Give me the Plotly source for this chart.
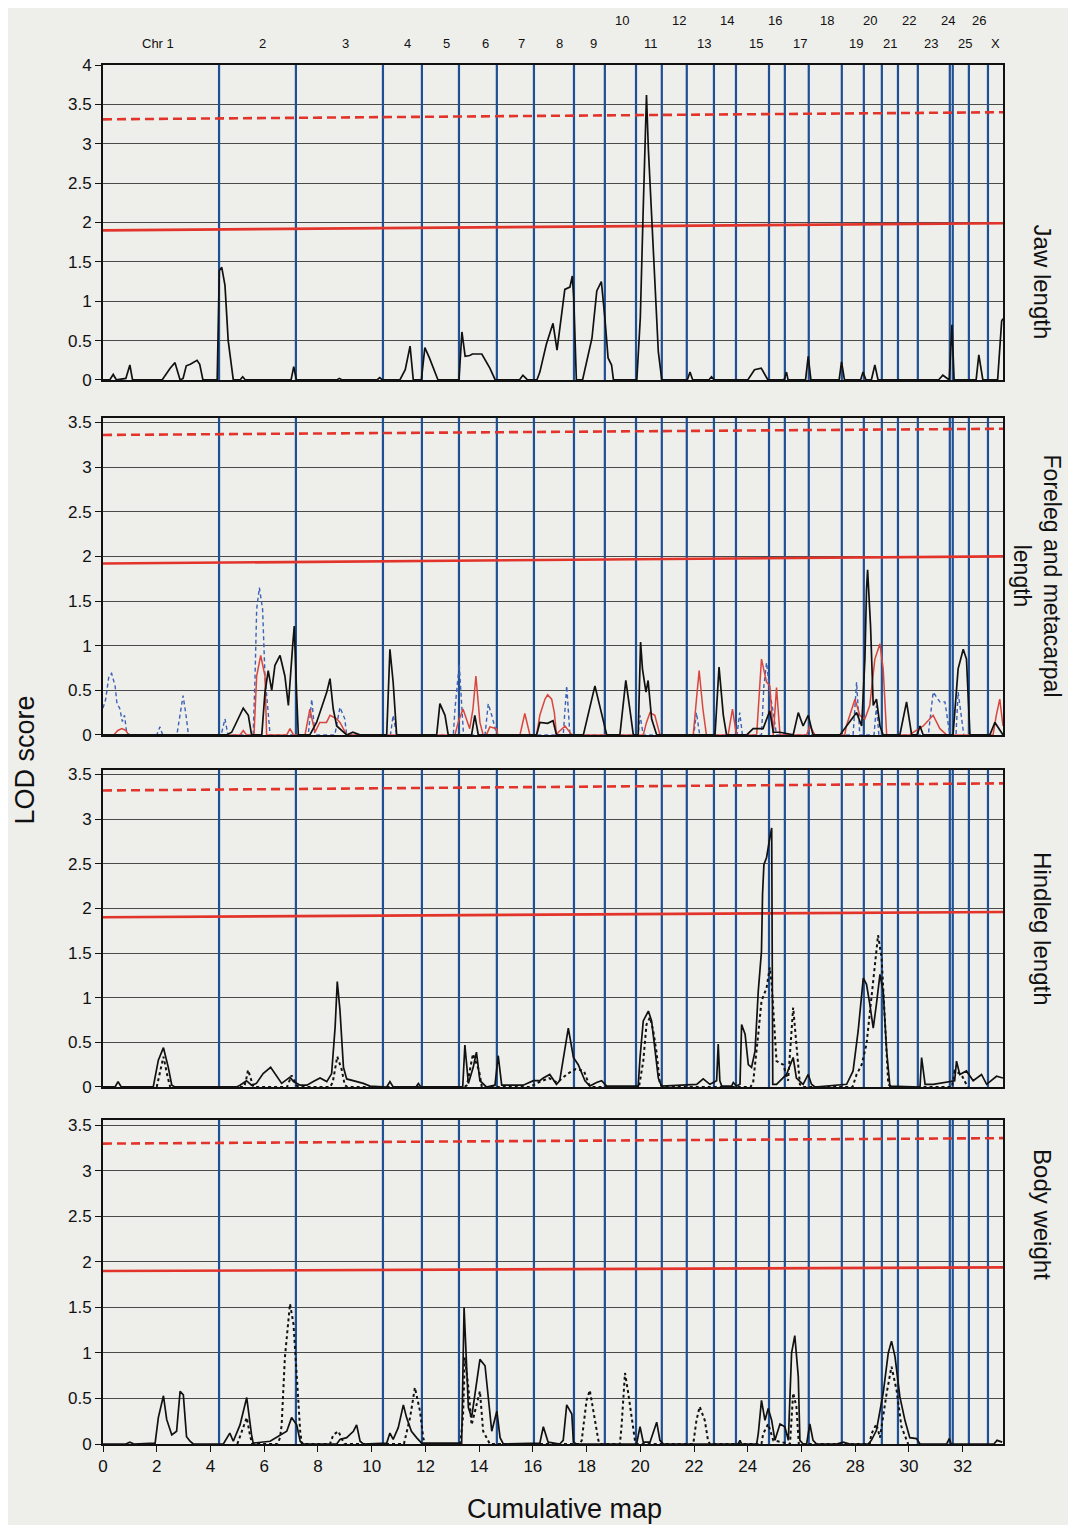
import plotly.graph_objects as go
from plotly.subplots import make_subplots

# ---------------- chromosome map ----------------
chrom_bounds = [4.32, 7.18, 10.42, 11.87, 13.25, 14.66, 16.04, 17.53, 18.68, 19.84,
                20.80, 21.73, 22.74, 23.56, 24.79, 25.38, 26.27, 27.50, 28.32, 28.99,
                29.59, 30.33, 31.52, 31.63, 32.23, 32.94]
chrom_labels = ["Chr 1", "2", "3", "4", "5", "6", "7", "8", "9", "10", "11", "12", "13",
                "14", "15", "16", "17", "18", "19", "20", "21", "22", "23", "24", "25", "26", "X"]
chrom_label_x = [2.05, 5.92, 9.04, 11.32, 12.77, 14.22, 15.56, 17.01, 18.27, 19.32, 20.39,
                 21.44, 22.37, 23.22, 24.30, 25.01, 25.94, 26.94, 28.02, 28.55, 29.29, 30.0,
                 30.82, 31.45, 32.08, 32.60, 33.23]
chrom_label_upper = [0, 0, 0, 0, 0, 0, 0, 0, 0, 1, 0, 1, 0, 1, 0, 1, 0, 1, 0, 1, 0, 1, 0, 1, 0, 1, 0]

x_ticks = list(range(0, 33, 2))
panel_titles = ["Jaw length", "Foreleg and metacarpal<br>length", "Hindleg length", "Body weight"]

# threshold lines [left, right] per panel
thr_dashed = [[3.31, 3.40], [3.36, 3.43], [3.32, 3.40], [3.30, 3.36]]
thr_solid = [[1.90, 1.99], [1.92, 2.00], [1.90, 1.96], [1.90, 1.94]]

# ---------------- Panel 1: jaw length ----------------
jaw_x = [0.0, 0.25, 0.38, 0.5, 0.85, 1.0, 1.1, 2.2, 2.5, 2.68, 2.87, 2.98, 3.1, 3.25, 3.5, 3.6, 3.72,
         4.25, 4.33, 4.42, 4.54, 4.66, 4.85, 5.1, 5.2, 5.3, 7.0, 7.1, 7.2, 8.7, 8.8, 8.9, 10.2, 10.3, 10.4,
         11.05, 11.25, 11.43, 11.55, 11.85, 11.98, 12.15, 12.47, 13.25, 13.36, 13.48, 13.65, 13.75,
         14.1, 14.4, 14.6, 15.5, 15.63, 15.8, 16.15, 16.26, 16.5, 16.75, 16.9, 17.19, 17.38, 17.47,
         17.52, 17.62, 17.85, 18.2, 18.38, 18.55, 18.68, 18.8, 18.93, 19.0, 19.87, 20.0, 20.1, 20.17,
         20.23, 20.3, 20.42, 20.55, 20.67, 20.8, 21.75, 21.85, 21.95, 22.55, 22.65, 22.75, 24.0, 24.25,
         24.5, 24.75, 25.35, 25.44, 25.5, 26.15, 26.25, 26.35, 27.4, 27.49, 27.6, 28.2, 28.29, 28.4,
         28.6, 28.73, 28.85, 31.1, 31.26, 31.5, 31.6, 31.68, 32.5, 32.6, 32.75, 33.3, 33.45, 33.5]
jaw_y = [0.0, 0.0, 0.07, 0.0, 0.02, 0.19, 0.0, 0.0, 0.15, 0.22, 0.0, 0.02, 0.18, 0.2, 0.25, 0.2, 0.0,
         0.0, 1.39, 1.43, 1.2, 0.5, 0.0, 0.0, 0.04, 0.0, 0.0, 0.17, 0.0, 0.0, 0.02, 0.0, 0.0, 0.03, 0.0,
         0.0, 0.13, 0.43, 0.0, 0.0, 0.41, 0.28, 0.0, 0.0, 0.61, 0.3, 0.31, 0.33,
         0.33, 0.15, 0.0, 0.0, 0.06, 0.0, 0.0, 0.1, 0.45, 0.72, 0.38, 1.15, 1.18, 1.32,
         1.05, 0.0, 0.0, 0.53, 1.13, 1.25, 0.79, 0.28, 0.19, 0.0, 0.0, 0.79, 2.07, 2.8,
         3.62, 2.93, 2.07, 1.22, 0.36, 0.0, 0.0, 0.1, 0.0, 0.0, 0.04, 0.0, 0.0, 0.13,
         0.15, 0.0, 0.0, 0.1, 0.0, 0.0, 0.3, 0.0, 0.0, 0.23, 0.0, 0.0, 0.1, 0.0,
         0.0, 0.19, 0.0, 0.0, 0.06, 0.0, 0.7, 0.0, 0.0, 0.32, 0.0, 0.0, 0.75, 0.78]

# ---------------- Panel 2: foreleg & metacarpal ----------------
fore_black_x = [0.0, 4.6, 4.79, 5.10, 5.22, 5.41, 5.53, 5.91, 6.03, 6.15, 6.28, 6.40, 6.59, 6.77, 6.90,
                7.06, 7.12, 7.21, 7.27, 7.7, 7.95, 8.33, 8.45, 8.57, 8.70, 9.07, 9.3, 9.56, 10.56,
                10.68, 10.80, 10.93, 12.42, 12.54, 12.73, 12.85, 13.72, 13.84, 13.97, 16.14, 16.26,
                16.55, 16.75, 16.88, 17.88, 18.31, 18.56, 18.75, 19.24, 19.46, 19.61, 19.74, 19.92,
                20.01, 20.08, 20.21, 20.29, 20.42, 20.61, 22.78, 22.93, 23.09, 23.21, 23.96, 24.20,
                24.57, 24.82, 24.95, 25.2, 25.69, 25.88, 26.06, 26.25, 26.43, 27.43, 28.05, 28.24,
                28.36, 28.42, 28.46, 28.57, 28.67, 28.79, 28.92, 29.04, 29.66, 29.91, 30.10, 30.3,
                30.41, 30.53, 31.64, 31.83, 32.02, 32.14, 32.27, 33.01, 33.2, 33.5]
fore_black_y = [0.0, 0.0, 0.03, 0.22, 0.30, 0.22, 0.0, 0.0, 0.48, 0.72, 0.5, 0.78, 0.89, 0.66, 0.33,
                1.0, 1.22, 0.44, 0.0, 0.0, 0.14, 0.48, 0.63, 0.29, 0.1, 0.0, 0.03, 0.0, 0.0,
                0.96, 0.59, 0.0, 0.0, 0.35, 0.22, 0.0, 0.0, 0.22, 0.0, 0.0, 0.14,
                0.13, 0.16, 0.0, 0.0, 0.55, 0.25, 0.0, 0.0, 0.61, 0.29, 0.0, 0.0,
                1.04, 0.74, 0.48, 0.61, 0.18, 0.0, 0.0, 0.76, 0.22, 0.0, 0.0, 0.07,
                0.07, 0.27, 0.03, 0.03, 0.0, 0.25, 0.1, 0.22, 0.0, 0.0, 0.25, 0.1,
                0.85, 1.63, 1.85, 1.22, 0.33, 0.4, 0.1, 0.0, 0.0, 0.37, 0.0, 0.0,
                0.1, 0.0, 0.0, 0.74, 0.96, 0.85, 0.0, 0.0, 0.14, 0.0]

fore_blue_x = [0.0, 0.1, 0.22, 0.32, 0.45, 0.52, 0.62, 0.72, 0.8, 0.88, 1.0, 2.0, 2.12, 2.22, 2.75,
               2.85, 2.98, 3.1, 3.18, 4.4, 4.54, 4.65, 5.59, 5.66, 5.72, 5.82, 5.94, 6.03, 6.15, 6.22,
               7.64, 7.77, 7.89, 8.63, 8.82, 9.0, 9.07, 10.7, 10.8, 10.93, 13.04, 13.1, 13.26, 13.36,
               13.42, 14.22, 14.34, 14.47, 14.66, 17.13, 17.26, 17.38, 19.92, 19.99, 20.11, 21.99,
               22.09, 22.21, 23.6, 23.70, 23.8, 24.51, 24.6, 24.7, 24.82, 24.95, 25.07, 27.92, 28.05,
               28.17, 28.7, 28.79, 28.88, 30.72, 30.9, 31.15, 31.34, 31.52, 31.75, 31.83, 31.96, 32.04]
fore_blue_y = [0.3, 0.4, 0.66, 0.69, 0.55, 0.35, 0.3, 0.15, 0.22, 0.03, 0.0, 0.0, 0.09, 0.0, 0.0,
               0.2, 0.44, 0.2, 0.0, 0.0, 0.18, 0.0, 0.0, 0.66, 1.41, 1.65, 1.41, 0.66, 0.22, 0.0,
               0.0, 0.4, 0.0, 0.0, 0.31, 0.18, 0.0, 0.0, 0.22, 0.0, 0.0, 0.29, 0.79, 0.29,
               0.0, 0.0, 0.35, 0.22, 0.0, 0.0, 0.55, 0.0, 0.0, 0.22, 0.0, 0.0,
               0.25, 0.0, 0.0, 0.25, 0.0, 0.0, 0.55, 0.81, 0.48, 0.25, 0.0, 0.0, 0.59,
               0.0, 0.0, 0.33, 0.0, 0.0, 0.48, 0.37, 0.37, 0.0, 0.0, 0.48, 0.18, 0.0]

fore_red_x = [0.4, 0.55, 0.7, 0.85, 0.95, 5.1, 5.22, 5.34, 5.62, 5.72, 5.87, 6.03, 6.09, 6.84, 6.96,
              7.09, 7.52, 7.6, 7.7, 7.89, 8.07, 8.32, 8.45, 8.7, 8.82, 9.07, 13.1, 13.22, 13.4, 13.65,
              13.77, 13.88, 14.03, 14.15, 14.27, 14.4, 14.64, 14.7, 15.52, 15.7, 15.89, 16.14, 16.26,
              16.45, 16.55, 16.7, 16.8, 16.88, 16.95, 17.2, 17.45, 20.11, 20.23, 20.36, 20.54, 20.73,
              21.97, 22.09, 22.19, 22.33, 22.46, 23.27, 23.43, 23.58, 24.33, 24.51, 24.7, 24.82, 24.95,
              25.07, 25.2, 26.19, 26.31, 26.5, 27.61, 27.67, 27.99, 28.17, 28.36, 28.54, 28.73, 28.92,
              29.04, 29.17, 30.03, 30.16, 30.53, 30.9, 31.15, 31.4, 33.13, 33.25, 33.38, 33.5]
fore_red_y = [0.0, 0.05, 0.07, 0.05, 0.0, 0.0, 0.05, 0.0, 0.0, 0.66, 0.89, 0.66, 0.0, 0.0, 0.07,
              0.0, 0.0, 0.14, 0.29, 0.03, 0.14, 0.14, 0.22, 0.18, 0.14, 0.0, 0.0, 0.14, 0.29, 0.07,
              0.29, 0.66, 0.14, 0.0, 0.0, 0.09, 0.07, 0.0, 0.0, 0.24, 0.0, 0.0, 0.22,
              0.40, 0.45, 0.4, 0.25, 0.0, 0.03, 0.1, 0.0, 0.0, 0.14, 0.25, 0.22, 0.0,
              0.0, 0.4, 0.72, 0.29, 0.0, 0.0, 0.29, 0.0, 0.0, 0.85, 0.59, 0.55, 0.0,
              0.53, 0.0, 0.0, 0.1, 0.0, 0.0, 0.1, 0.4, 0.22, 0.18, 0.33, 0.85, 1.02,
              0.74, 0.0, 0.0, 0.03, 0.1, 0.22, 0.07, 0.0, 0.0, 0.22, 0.4, 0.1]

# ---------------- Panel 3: hindleg length ----------------
hind_solid_x = [0.0, 0.45, 0.56, 0.68, 1.87, 2.06, 2.25, 2.43, 2.56, 2.68, 4.97, 5.1, 5.34, 5.53, 5.71,
                5.96, 6.24, 6.46, 6.65, 6.96, 7.09, 7.34, 7.59, 7.83, 8.08, 8.33, 8.51, 8.64, 8.72, 8.82,
                8.95, 9.07, 9.32, 9.69, 9.94, 10.56, 10.68, 10.8, 11.65, 11.74, 11.83, 13.39, 13.47,
                13.6, 13.78, 13.9, 14.03, 14.15, 14.27, 14.59, 14.71, 14.84, 15.64, 16.02, 16.26, 16.39,
                16.63, 16.88, 17.0, 17.32, 17.51, 17.69, 17.94, 18.12, 18.37, 18.56, 18.75, 19.92, 19.99,
                20.11, 20.3, 20.42, 20.54, 20.67, 20.79, 22.1, 22.34, 22.59, 22.84, 22.9, 22.96, 23.03,
                23.4, 23.46, 23.58, 23.71, 23.77, 23.9, 24.02, 24.14, 24.27, 24.39, 24.51, 24.55, 24.6,
                24.7, 24.82, 24.89, 24.93, 25.07, 25.44, 25.69, 25.81, 26.06, 26.25, 26.37, 26.5, 27.68,
                27.92, 28.11, 28.3, 28.42, 28.54, 28.67, 28.79, 28.92, 29.04, 29.17, 29.29, 30.41, 30.47,
                30.6, 30.9, 31.4, 31.7, 31.77, 31.89, 32.14, 32.39, 32.7, 32.89, 33.26, 33.5]
hind_solid_y = [0.0, 0.0, 0.06, 0.0, 0.0, 0.3, 0.44, 0.22, 0.02, 0.0, 0.0, 0.02, 0.07, 0.02, 0.04,
                0.15, 0.22, 0.13, 0.04, 0.11, 0.06, 0.02, 0.02, 0.06, 0.1, 0.06, 0.15, 0.67, 1.18, 0.86,
                0.22, 0.09, 0.07, 0.04, 0.01, 0.0, 0.06, 0.0, 0.0, 0.04, 0.0, 0.0, 0.47,
                0.04, 0.22, 0.39, 0.07, 0.04, 0.0, 0.02, 0.35, 0.02, 0.02, 0.07, 0.07, 0.1,
                0.14, 0.03, 0.07, 0.66, 0.33, 0.25, 0.07, 0.01, 0.05, 0.07, 0.01, 0.01, 0.33,
                0.74, 0.85, 0.74, 0.4, 0.1, 0.01, 0.03, 0.09, 0.03, 0.07, 0.48, 0.07, 0.01,
                0.01, 0.05, 0.01, 0.03, 0.70, 0.59, 0.25, 0.22, 0.4, 1.07, 1.52, 2.16, 2.49,
                2.57, 2.79, 2.9, 0.03, 0.03, 0.14, 0.33, 0.1, 0.03, 0.14, 0.03, 0.0, 0.03,
                0.18, 0.63, 1.22, 1.15, 0.93, 0.66, 0.93, 1.26, 1.07, 0.4, 0.01, 0.0, 0.33,
                0.03, 0.03, 0.05, 0.07, 0.29, 0.14, 0.18, 0.07, 0.14, 0.03, 0.12, 0.1]

hind_dot_x = [2.0, 2.15, 2.25, 2.4, 2.5, 5.25, 5.32, 5.4, 5.52, 5.6, 6.85, 7.02, 7.2, 7.3, 8.45, 8.55,
              8.72, 8.88, 9.0, 9.1, 13.45, 13.55, 13.77, 14.0, 14.1, 15.9, 16.2, 16.6, 16.9, 17.3, 17.6,
              17.9, 18.1, 18.2, 19.95, 20.11, 20.23, 20.36, 20.48, 20.6, 20.73, 20.85, 24.1, 24.2,
              24.39, 24.51, 24.7, 24.82, 24.89, 25.07, 25.32, 25.5, 25.69, 25.81, 25.94, 26.05, 27.9,
              28.05, 28.24, 28.42, 28.6, 28.79, 28.85, 28.98, 29.1, 29.23, 29.35, 31.6, 31.7, 31.95,
              32.1, 32.2]
hind_dot_y = [0.0, 0.2, 0.34, 0.12, 0.0, 0.0, 0.07, 0.19, 0.07, 0.0, 0.0, 0.13, 0.02, 0.0, 0.0, 0.05,
              0.34, 0.2, 0.02, 0.0, 0.0, 0.02, 0.37, 0.18, 0.0, 0.0, 0.05, 0.1, 0.05, 0.15, 0.2,
              0.18, 0.02, 0.0, 0.0, 0.29, 0.7, 0.78, 0.63, 0.4, 0.03, 0.0, 0.0, 0.05,
              0.59, 0.96, 1.11, 1.34, 1.15, 0.29, 0.25, 0.07, 0.89, 0.48, 0.03, 0.0, 0.0,
              0.14, 0.25, 0.48, 0.96, 1.52, 1.7, 1.45, 0.78, 0.03, 0.0, 0.0, 0.18, 0.14,
              0.05, 0.0]

# ---------------- Panel 4: body weight ----------------
body_solid_x = [0.0, 0.85, 1.0, 1.15, 1.94, 2.06, 2.25, 2.37, 2.56, 2.74, 2.87, 2.99, 3.11, 3.24, 3.36,
                4.48, 4.72, 4.85, 5.1, 5.35, 5.53, 5.59, 6.22, 6.59, 6.84, 7.02, 7.21, 7.34, 7.46, 8.7,
                8.82, 9.07, 9.32, 9.44, 9.57, 9.69, 10.56, 10.68, 10.8, 10.99, 11.18, 11.3, 11.48, 11.67,
                11.86, 13.35, 13.44, 13.51, 13.6, 13.72, 13.85, 14.03, 14.22, 14.34, 14.47, 14.66, 14.78,
                14.9, 16.26, 16.39, 16.51, 16.57, 17.0, 17.13, 17.26, 17.45, 17.51, 17.63, 19.86, 19.99,
                20.11, 20.36, 20.61, 20.73, 20.86, 23.64, 23.71, 23.77, 24.33, 24.39, 24.51, 24.64, 24.76,
                24.89, 25.01, 25.2, 25.38, 25.51, 25.63, 25.75, 25.88, 25.94, 26.06, 26.19, 26.31, 26.43,
                26.56, 27.3, 27.55, 27.8, 28.48, 28.6, 28.79, 29.04, 29.23, 29.35, 29.48, 29.66, 29.85,
                30.03, 30.28, 30.41, 31.4, 31.5, 31.57, 33.16, 33.28, 33.47]
body_solid_y = [0.0, 0.0, 0.02, 0.0, 0.01, 0.29, 0.53, 0.27, 0.1, 0.14, 0.58, 0.54, 0.08, 0.03, 0.0,
                0.0, 0.12, 0.03, 0.21, 0.51, 0.1, 0.01, 0.03, 0.1, 0.14, 0.29, 0.21, 0.03, 0.0, 0.0,
                0.05, 0.07, 0.14, 0.21, 0.03, 0.0, 0.01, 0.12, 0.05, 0.18, 0.43, 0.29, 0.14, 0.07,
                0.01, 0.01, 1.5, 1.02, 0.4, 0.29, 0.58, 0.93, 0.86, 0.51, 0.14, 0.36, 0.07,
                0.0, 0.01, 0.19, 0.07, 0.02, 0.0, 0.04, 0.43, 0.33, 0.02, 0.0, 0.0, 0.19,
                0.02, 0.02, 0.24, 0.04, 0.0, 0.0, 0.04, 0.0, 0.0, 0.11, 0.48, 0.26, 0.39,
                0.26, 0.04, 0.22, 0.19, 0.04, 1.0, 1.19, 0.74, 0.04, 0.0, 0.0, 0.22, 0.04,
                0.0, 0.0, 0.02, 0.0, 0.0, 0.04, 0.15, 0.56, 1.0, 1.13, 0.96, 0.52, 0.26,
                0.07, 0.06, 0.0, 0.0, 0.06, 0.0, 0.0, 0.04, 0.02]

body_dot_x = [5.0, 5.16, 5.35, 5.47, 5.55, 6.5, 6.59, 6.65, 6.77, 6.96, 7.09, 7.21, 7.34, 7.4, 8.45,
              8.57, 8.76, 8.9, 9.0, 11.2, 11.3, 11.43, 11.61, 11.8, 11.92, 11.98, 13.3, 13.4, 13.47,
              13.6, 13.72, 13.9, 14.03, 14.15, 14.28, 14.4, 17.75, 17.82, 17.88, 18.0, 18.12, 18.31,
              18.44, 18.5, 19.24, 19.3, 19.43, 19.55, 19.68, 19.8, 19.86, 21.97, 22.09, 22.21, 22.4,
              22.52, 22.59, 24.51, 24.57, 24.76, 24.95, 25.57, 25.69, 25.81, 25.9, 28.54, 28.6, 28.79,
              28.92, 29.17, 29.35, 29.54, 29.72, 29.91, 29.97]
body_dot_y = [0.0, 0.14, 0.29, 0.1, 0.0, 0.0, 0.07, 0.21, 0.95, 1.54, 1.32, 0.76, 0.14, 0.0, 0.0,
              0.1, 0.14, 0.05, 0.0, 0.0, 0.14, 0.29, 0.62, 0.36, 0.07, 0.0, 0.0, 0.3, 0.95,
              0.62, 0.21, 0.43, 0.58, 0.14, 0.07, 0.0, 0.0, 0.04, 0.19, 0.48, 0.59, 0.26,
              0.04, 0.0, 0.0, 0.19, 0.78, 0.56, 0.26, 0.04, 0.0, 0.0, 0.26, 0.41, 0.26,
              0.04, 0.0, 0.0, 0.11, 0.22, 0.04, 0.0, 0.56, 0.41, 0.0, 0.0, 0.11, 0.22,
              0.07, 0.56, 0.85, 0.59, 0.19, 0.04, 0.0]

# ---------------- figure ----------------
BG = "#eeeeea"
BLACK = "#111111"
BLUE = "#1f4f94"
RED = "#e3342b"
FONT = "Liberation Sans, Arial, sans-serif"

fig = make_subplots(rows=4, cols=1, shared_xaxes=True, vertical_spacing=0.02)

def add(row, x, y, color=BLACK, dash="solid", width=1.7):
    fig.add_trace(go.Scatter(x=x, y=y, mode="lines", line=dict(color=color, dash=dash, width=width),
                             showlegend=False, hoverinfo="skip"), row=row, col=1)

X_END = 33.5
domains = [[0.7716, 1.0], [0.5142, 0.7440], [0.2589, 0.4888], [0.0, 0.2350]]
yranges = [[0, 4], [0, 3.55], [0, 3.55], [0, 3.56]]

for i in range(4):
    r = i + 1
    # chromosome boundary lines
    bx, by = [], []
    for b in chrom_bounds:
        bx += [b, b, None]
        by += [0, yranges[i][1], None]
    add(r, bx, by, color=BLUE, width=2.2)
    add(r, [0, X_END], thr_dashed[i], color=RED, dash="9px,5px", width=2.6)
    add(r, [0, X_END], thr_solid[i], color=RED, width=2.6)

add(1, jaw_x, jaw_y)
add(2, fore_blue_x, fore_blue_y, color="#3b62b8", dash="4px,3px", width=1.4)
add(2, fore_red_x, fore_red_y, color="#d8463e", width=1.5)
add(2, fore_black_x, fore_black_y)
add(3, hind_dot_x, hind_dot_y, dash="dot", width=2)
add(3, hind_solid_x, hind_solid_y)
add(4, body_dot_x, body_dot_y, dash="dot", width=2)
add(4, body_solid_x, body_solid_y)

title_x = [1.061, 1.071, 1.061, 1.061]
title_size = [24, 23, 24, 24]
for i in range(4):
    r = i + 1
    fig.update_yaxes(row=r, col=1, domain=domains[i], range=yranges[i],
                     tickvals=[v * 0.5 for v in range(0, 9 if i == 0 else 8)],
                     showgrid=True, gridcolor="#4a4a4a", gridwidth=1,
                     showline=True, mirror=True, linecolor=BLACK, linewidth=2,
                     ticks="outside", ticklen=6, tickcolor=BLACK, zeroline=False,
                     tickfont=dict(family=FONT, size=17, color=BLACK))
    fig.update_xaxes(row=r, col=1, range=[0, X_END], showgrid=False, zeroline=False,
                     showline=True, mirror=True, linecolor=BLACK, linewidth=2,
                     tickvals=x_ticks, ticks="outside" if r == 4 else "", ticklen=6,
                     tickcolor=BLACK, showticklabels=(r == 4),
                     tickfont=dict(family=FONT, size=17, color=BLACK))
    ymid = (domains[i][0] + domains[i][1]) / 2
    fig.add_annotation(text=panel_titles[i], x=title_x[i], y=ymid, xref="paper", yref="paper",
                       showarrow=False, textangle=90,
                       font=dict(family=FONT, size=title_size[i], color=BLACK))

for lab, lx, up in zip(chrom_labels, chrom_label_x, chrom_label_upper):
    fig.add_annotation(text=lab, x=lx, y=1.0391 if up else 1.0225, xref="x", yref="paper",
                       showarrow=False, font=dict(family=FONT, size=13, color=BLACK))

fig.add_annotation(text="LOD score", x=-0.106, y=0.496, xref="paper", yref="paper",
                   showarrow=False, textangle=-90, font=dict(family=FONT, size=27, color=BLACK))
fig.add_annotation(text="Cumulative map", x=0.513, y=-0.0595, xref="paper", yref="paper",
                   showarrow=False, font=dict(family=FONT, size=27, color=BLACK))

fig.update_layout(width=1060, height=1517, paper_bgcolor=BG, plot_bgcolor=BG,
                  margin=dict(l=95, r=65, t=57, b=81), showlegend=False)

fig.write_html("out.html")
